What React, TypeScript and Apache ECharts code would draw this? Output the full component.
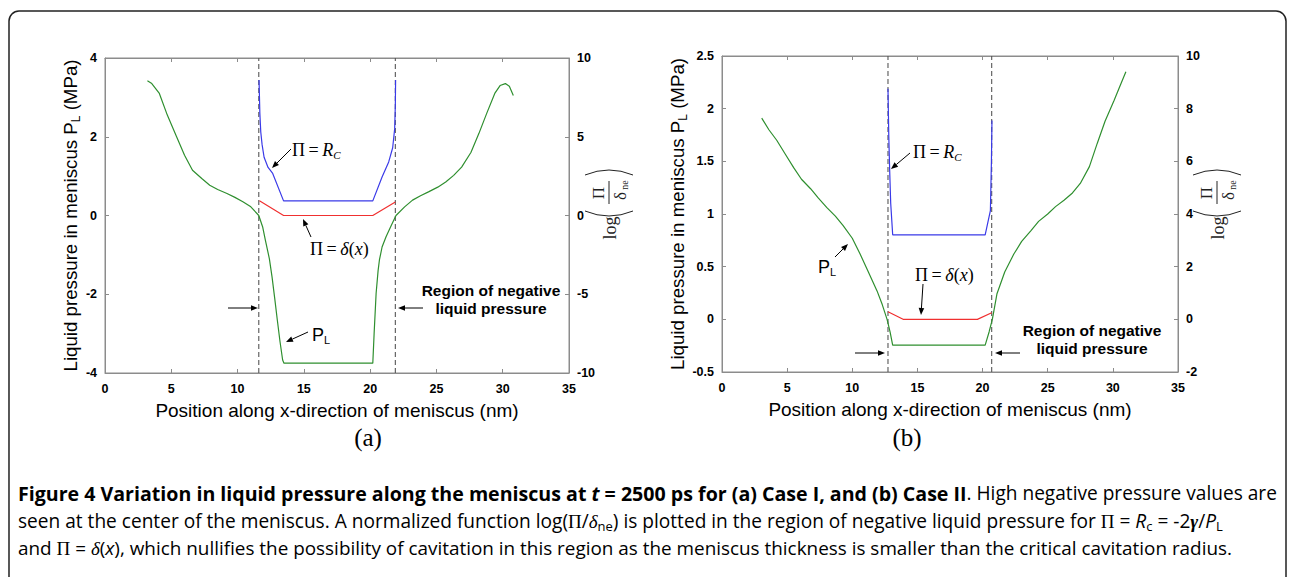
import React, { useEffect, useRef } from "react";
import * as echarts from "echarts";

// ---------- data ----------
// Panel (a) Case I : liquid pressure P_L (MPa), left axis
const aGreenX = [3.2, 3.5, 4.1, 4.7, 5.4, 6.0, 6.6, 7.3, 7.9, 8.5, 9.2, 9.8, 10.4, 11.0, 11.6, 11.9, 12.1, 12.4, 12.6, 12.8, 13.0, 13.2, 13.4, 13.5, 20.2, 20.3, 20.45, 20.6, 20.7, 20.9, 21.2, 21.6, 21.95, 22.6, 23.2, 23.8, 24.4, 25.1, 25.7, 26.3, 26.9, 27.6, 28.2, 28.8, 29.4, 29.8, 30.2, 30.5, 30.8];
const aGreenY = [3.42, 3.36, 3.1, 2.55, 2.0, 1.53, 1.15, 0.94, 0.77, 0.66, 0.56, 0.46, 0.35, 0.22, 0.0, -0.3, -0.63, -1.1, -1.56, -2.1, -2.66, -3.2, -3.67, -3.75, -3.75, -3.0, -1.98, -1.4, -1.13, -0.8, -0.54, -0.25, 0.0, 0.22, 0.39, 0.5, 0.6, 0.72, 0.85, 1.02, 1.23, 1.6, 2.08, 2.6, 3.1, 3.3, 3.35, 3.28, 3.05];
// log(Pi/delta_ne), right axis
const aBlueX = [11.62, 11.68, 11.75, 11.85, 12.0, 12.3, 12.65, 13.47, 20.2, 20.9, 21.4, 21.7, 21.85, 21.9, 21.92];
const aBlueY = [8.6, 6.5, 5.3, 4.5, 3.7, 3.05, 2.67, 0.93, 0.93, 2.45, 3.4, 4.3, 5.5, 7.0, 8.6];
const aRedX = [11.65, 13.47, 20.2, 21.9];
const aRedY = [0.93, 0.0, 0.0, 0.86];
const aDashX = [11.6, 21.9];

// Panel (b) Case II
const bGreenX = [3.05, 3.6, 4.2, 4.85, 5.5, 6.1, 6.8, 7.4, 8.05, 8.7, 9.3, 10.0, 10.6, 11.2, 11.9, 12.3, 12.67, 12.9, 13.1, 20.2, 20.5, 20.75, 21.1, 21.7, 22.4, 23.0, 23.7, 24.3, 25.0, 25.6, 26.25, 26.9, 27.5, 28.2, 28.8, 29.4, 30.1, 30.5, 31.0];
const bGreenY = [1.91, 1.8, 1.7, 1.57, 1.44, 1.33, 1.24, 1.15, 1.06, 0.98, 0.89, 0.77, 0.62, 0.46, 0.27, 0.14, 0.0, -0.12, -0.245, -0.245, -0.12, 0.0, 0.24, 0.45, 0.62, 0.74, 0.84, 0.93, 1.0, 1.07, 1.13, 1.2, 1.29, 1.45, 1.67, 1.88, 2.08, 2.2, 2.35];
const bBlueX = [12.74, 12.8, 12.87, 12.95, 13.1, 20.2, 20.6, 20.68, 20.72];
const bBlueY = [8.76, 7.0, 5.65, 4.4, 3.21, 3.21, 4.13, 6.0, 7.55];
const bRedX = [12.74, 13.9, 19.6, 20.7];
const bRedY = [0.29, 0.0, 0.0, 0.25];
const bDashX = [12.74, 20.7];

// axis ranges
const xRange = [0, 35, 5];
const aLeftRange = [-4, 4, 2];
const aRightRange = [-10, 10, 5];
const bLeftRange = [-0.5, 2.5, 0.5];
const bRightRange = [-2, 10, 2];

const xName = "Position along x-direction of meniscus (nm)";

const SANS = '"Liberation Sans", Arial, sans-serif';
const SERIF = '"Liberation Serif", "Times New Roman", serif';
const CAP = '"Open Sans", "Noto Sans", sans-serif';
const AXC = "#8c8c8c";
const GREEN = "#2f8f2f";
const BLUE = "#3a3ae8";
const RED = "#f03030";

const zip = (xs: number[], ys: number[]) => xs.map((x, i) => [x, ys[i]]);

function arrow(x1: number, y1: number, x2: number, y2: number) {
  const dx = x2 - x1, dy = y2 - y1;
  const L = Math.sqrt(dx * dx + dy * dy);
  const ux = dx / L, uy = dy / L;
  const h = 7, w = 2.8;
  const bx = x2 - ux * h, by = y2 - uy * h;
  return [
    { type: "line", shape: { x1, y1, x2: bx, y2: by }, style: { stroke: "#000", lineWidth: 1 } },
    {
      type: "polygon",
      shape: { points: [[x2, y2], [bx - uy * w, by + ux * w], [bx + uy * w, by - ux * w]] },
      style: { fill: "#000" },
    },
  ];
}

function logLabel(cx: number, cy: number) {
  const ink = "#222";
  return {
    type: "group",
    x: cx,
    y: cy,
    rotation: Math.PI / 2,
    children: [
      { type: "text", x: -35, y: 1, style: { text: "log", font: `18px ${SERIF}`, fill: ink, align: "center", verticalAlign: "middle" } },
      { type: "bezierCurve", shape: { x1: -18, y1: -24, x2: -18, y2: 24, cpx1: -28, cpy1: 0 }, style: { stroke: ink, lineWidth: 1, fill: "none" } },
      { type: "bezierCurve", shape: { x1: 18, y1: -24, x2: 18, y2: 24, cpx1: 28, cpy1: 0 }, style: { stroke: ink, lineWidth: 1, fill: "none" } },
      { type: "text", x: 0, y: -11, style: { text: "Π", font: `17px ${SERIF}`, fill: ink, align: "center", verticalAlign: "middle" } },
      { type: "line", shape: { x1: -11, y1: 0, x2: 12, y2: 0 }, style: { stroke: ink, lineWidth: 1 } },
      { type: "text", x: -3, y: 11, style: { text: "δ", font: `17px ${SERIF}`, fill: ink, align: "center", verticalAlign: "middle" } },
      { type: "text", x: 8, y: 15, style: { text: "ne", font: `10px ${SERIF}`, fill: ink, align: "center", verticalAlign: "middle" } },
    ],
  };
}

const sub = (size: number, font: string, extra: any = {}) => ({ fontSize: size, fontFamily: font, padding: [9, 0, 0, 0], ...extra });

function mathText(x: number, y: number, text: string, rich: any) {
  return { type: "text", x, y, style: { text, rich, fill: "#000", verticalAlign: "middle", align: "left" } };
}

const annoRich = {
  n: { fontSize: 18, fontFamily: SERIF, color: "#000", lineHeight: 20 },
  i: { fontSize: 18, fontFamily: SERIF, fontStyle: "italic", color: "#000", lineHeight: 20 },
  si: sub(11, SERIF, { fontStyle: "italic", color: "#000" }),
  p: { fontSize: 18, fontFamily: SANS, color: "#000", lineHeight: 20 },
  ps: sub(11, SANS, { color: "#000" }),
};

function regionText(cx: number, y1: number) {
  return {
    type: "text",
    x: cx,
    y: y1,
    style: {
      text: "Region of negative\nliquid pressure",
      font: `bold 15.5px ${SANS}`,
      fill: "#000",
      align: "center",
      verticalAlign: "middle",
      lineHeight: 18,
    },
  };
}

const CB = 19.6;
const CR = 19.1;
const capRich = {
  b: { fontSize: CB, fontFamily: CAP, fontWeight: "bold", color: "#111" },
  bi: { fontSize: CB, fontFamily: CAP, fontWeight: "bold", fontStyle: "italic", color: "#111" },
  r: { fontSize: CR, fontFamily: CAP, color: "#333" },
  s: { fontSize: 19, fontFamily: SERIF, color: "#333" },
  si: { fontSize: 19, fontFamily: SERIF, fontStyle: "italic", color: "#333" },
  ri: { fontSize: CR, fontFamily: CAP, fontStyle: "italic", color: "#333" },
  sbi: { fontSize: 19, fontFamily: SERIF, fontStyle: "italic", fontWeight: "bold", color: "#333" },
  sub: { fontSize: 13, fontFamily: CAP, color: "#333", padding: [9, 0, 0, 0] },
};

function xAxes(grid: number) {
  const base = {
    gridIndex: grid,
    type: "value",
    min: xRange[0],
    max: xRange[1],
    interval: xRange[2],
    splitLine: { show: false },
    axisLine: { show: true, onZero: false, lineStyle: { color: AXC, width: 1 } },
    axisTick: { show: true, inside: true, length: 4, lineStyle: { color: AXC } },
  };
  return [
    {
      ...base,
      position: "bottom",
      axisLabel: { color: "#000", fontWeight: "bold", fontSize: 12.5, fontFamily: SANS, margin: 9 },
      name: xName,
      nameLocation: "middle",
      nameGap: 28,
      nameTextStyle: { fontSize: 19, fontFamily: SANS, color: "#000" },
    },
    { ...base, position: "top", axisLabel: { show: false } },
  ];
}

function yAxis(grid: number, range: number[], pos: string, withName: boolean) {
  return {
    gridIndex: grid,
    type: "value",
    position: pos,
    min: range[0],
    max: range[1],
    interval: range[2],
    splitLine: { show: false },
    axisLine: { show: true, onZero: false, lineStyle: { color: AXC, width: 1 } },
    axisTick: { show: true, inside: true, length: 4, lineStyle: { color: AXC } },
    axisLabel: { color: "#000", fontWeight: "bold", fontSize: 12.5, fontFamily: SANS, margin: 8 },
    ...(withName
      ? {
          name: "{a|Liquid pressure in meniscus P}{s|L}{a| (MPa)}",
          nameLocation: "middle",
          nameGap: 21,
          nameTextStyle: {
            rich: {
              a: { fontSize: 18.7, fontFamily: SANS, color: "#000", lineHeight: 22 },
              s: { fontSize: 12, fontFamily: SANS, color: "#000", padding: [10, 0, 0, 0] },
            },
          },
        }
      : {}),
  };
}

function lineSeries(xi: number, yi: number, data: number[][], color: string, width = 1.2, dashed = false) {
  return {
    type: "line",
    xAxisIndex: xi,
    yAxisIndex: yi,
    data,
    showSymbol: false,
    symbol: "none",
    smooth: false,
    silent: true,
    lineStyle: { color, width, type: dashed ? [5, 3] : "solid" },
    z: dashed ? 1 : 3,
  };
}

export default function App() {
  const ref = useRef<HTMLDivElement>(null);
  useEffect(() => {
    if (!ref.current) return;
    const chart = echarts.init(ref.current, null, { renderer: "svg" });
    const option: any = {
      animation: false,
      backgroundColor: "#fff",
      grid: [
        { left: 105, top: 58, width: 464, height: 315, show: true, borderColor: AXC, borderWidth: 1, backgroundColor: "transparent" },
        { left: 722, top: 56, width: 456, height: 316, show: true, borderColor: AXC, borderWidth: 1, backgroundColor: "transparent" },
      ],
      xAxis: [...xAxes(0), ...xAxes(1)],
      yAxis: [
        yAxis(0, aLeftRange, "left", true),
        yAxis(0, aRightRange, "right", false),
        yAxis(1, bLeftRange, "left", true),
        yAxis(1, bRightRange, "right", false),
      ],
      series: [
        lineSeries(0, 0, [[aDashX[0], aLeftRange[0]], [aDashX[0], aLeftRange[1]]], "#555", 1.1, true),
        lineSeries(0, 0, [[aDashX[1], aLeftRange[0]], [aDashX[1], aLeftRange[1]]], "#555", 1.1, true),
        lineSeries(0, 0, zip(aGreenX, aGreenY), GREEN),
        lineSeries(0, 1, zip(aBlueX, aBlueY), BLUE),
        lineSeries(0, 1, zip(aRedX, aRedY), RED),
        lineSeries(2, 2, [[bDashX[0], bLeftRange[0]], [bDashX[0], bLeftRange[1]]], "#555", 1.1, true),
        lineSeries(2, 2, [[bDashX[1], bLeftRange[0]], [bDashX[1], bLeftRange[1]]], "#555", 1.1, true),
        lineSeries(2, 2, zip(bGreenX, bGreenY), GREEN),
        lineSeries(2, 3, zip(bBlueX, bBlueY), BLUE),
        lineSeries(2, 3, zip(bRedX, bRedY), RED),
      ],
      graphic: [
        { type: "rect", shape: { x: 9, y: 11, width: 1277, height: 620, r: 10 }, style: { fill: "none", stroke: "#222", lineWidth: 1.5 }, z: 0 },
        logLabel(609, 193),
        logLabel(1217, 193),
        // panel (a) annotations
        mathText(292, 150, "{n|Π\u2009=\u2009}{i|R}{si|C}", annoRich),
        ...arrow(291, 149, 272, 168),
        mathText(310, 249, "{n|Π\u2009=\u2009}{i|δ}{n|(}{i|x}{n|)}", annoRich),
        ...arrow(311, 237, 303, 219),
        mathText(312, 335, "{p|P}{ps|L}", annoRich),
        ...arrow(308, 332, 286, 342),
        ...arrow(228, 308, 258, 308),
        ...arrow(423, 308, 398, 308),
        regionText(491, 299),
        // panel (b) annotations
        mathText(913, 152, "{n|Π\u2009=\u2009}{i|R}{si|C}", annoRich),
        ...arrow(910, 153, 891, 169),
        mathText(818, 267, "{p|P}{ps|L}", annoRich),
        ...arrow(835, 257, 848, 244),
        mathText(915, 275, "{n|Π\u2009=\u2009}{i|δ}{n|(}{i|x}{n|)}", annoRich),
        ...arrow(923, 284, 921, 315),
        ...arrow(855, 353, 885, 353),
        ...arrow(1020, 353, 995, 353),
        regionText(1092, 339),
        // panel labels
        { type: "text", x: 368, y: 437, style: { text: "(a)", font: `25px ${SERIF}`, fill: "#000", align: "center", verticalAlign: "middle" } },
        { type: "text", x: 907, y: 437, style: { text: "(b)", font: `25px ${SERIF}`, fill: "#000", align: "center", verticalAlign: "middle" } },
        // caption
        {
          type: "text",
          x: 18,
          y: 493,
          style: {
            text: "{b|Figure 4 Variation in liquid pressure along the meniscus at }{bi|t}{b| = 2500 ps for (a) Case I, and (b) Case II}{r|. High negative pressure values are}",
            rich: capRich,
            verticalAlign: "middle",
          },
        },
        {
          type: "text",
          x: 18,
          y: 521,
          style: {
            text: "{r|seen at the center of the meniscus. A normalized function log(}{s|Π}{r|/}{si|δ}{sub|ne}{r|) is plotted in the region of negative liquid pressure for }{s|Π}{r| = }{ri|R}{sub|c}{r| = -2}{sbi|γ}{r|/}{ri|P}{sub|L}",
            rich: capRich,
            verticalAlign: "middle",
          },
        },
        {
          type: "text",
          x: 18,
          y: 548,
          style: {
            text: "{r|and }{s|Π}{r| = }{si|δ}{r|(}{ri|x}{r|), which nullifies the possibility of cavitation in this region as the meniscus thickness is smaller than the critical cavitation radius.}",
            rich: { ...capRich, r: { ...capRich.r, fontSize: 18.9 }, ri: { ...capRich.ri, fontSize: 18.9 } },
            verticalAlign: "middle",
          },
        },
      ],
    };
    chart.setOption(option);
    return () => chart.dispose();
  }, []);
  return <div ref={ref} style={{ position: "absolute", left: 0, top: 0, width: 1295, height: 577 }} />;
}
